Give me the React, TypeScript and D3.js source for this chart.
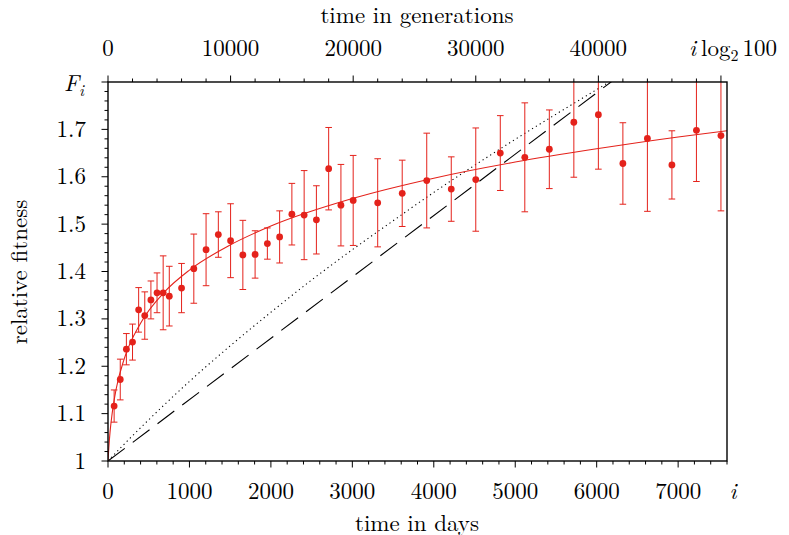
import React from "react";
import * as d3 from "d3";

// ---- data ----
const generations = [
  500, 1000, 1500, 2000, 2500, 3000, 3500, 4000, 4500, 5000,
  6000, 7000, 8000, 9000, 10000, 11000, 12000, 13000, 14000, 15000,
  16000, 17000, 18000, 19000, 20000,
  22000, 24000, 26000, 28000, 30000, 32000, 34000, 36000, 38000, 40000,
  42000, 44000, 46000, 48000, 50000,
];
const fitness = [
  1.116, 1.172, 1.236, 1.251, 1.319, 1.307, 1.340, 1.355, 1.355, 1.348,
  1.365, 1.406, 1.446, 1.478, 1.465, 1.435, 1.436, 1.459, 1.473, 1.521,
  1.519, 1.509, 1.617, 1.540, 1.550,
  1.545, 1.565, 1.592, 1.574, 1.594, 1.650, 1.641, 1.658, 1.715, 1.731,
  1.628, 1.681, 1.625, 1.698, 1.687,
];
const errors = [
  0.034, 0.043, 0.033, 0.038, 0.047, 0.050, 0.040, 0.042, 0.078, 0.063,
  0.052, 0.073, 0.076, 0.048, 0.078, 0.073, 0.050, 0.033, 0.055, 0.065,
  0.094, 0.072, 0.087, 0.086, 0.095,
  0.093, 0.070, 0.100, 0.068, 0.109, 0.079, 0.115, 0.083, 0.116, 0.115,
  0.086, 0.154, 0.072, 0.108, 0.159,
];

// fitted curve (power law)
const fitDays = [0, 10, 25, 50, 100, 200, 400, 700, 1000, 1500, 2000, 3000, 4000, 5000, 6000, 7000, 7600];
const fitF = [1.0, 1.028, 1.061, 1.099, 1.152, 1.216, 1.291, 1.358, 1.403, 1.456, 1.496, 1.554, 1.597, 1.631, 1.659, 1.684, 1.697];

// dotted curve
const dotDays = [0, 100, 250, 500, 1000, 1500, 2000, 2500, 3000, 3500, 4000, 4500, 5000, 5500, 6000, 6300];
const dotF = [1.0, 1.018, 1.0445, 1.087, 1.168, 1.243, 1.314, 1.382, 1.446, 1.507, 1.567, 1.624, 1.679, 1.732, 1.784, 1.815];

// dashed line
const dashDays = [0, 6300];
const dashF = [1.0, 1.816];

const daysTicks = [0, 1000, 2000, 3000, 4000, 5000, 6000, 7000];
const genTicks = [0, 10000, 20000, 30000, 40000];
const fitTicks = [1, 1.1, 1.2, 1.3, 1.4, 1.5, 1.6, 1.7];

const LOG2_100 = Math.log2(100);
const W = 789;
const H = 535;
const RED = "#e4221b";
const FONT = '"Latin Modern Roman"';

export default function App() {
  const x = d3.scaleLinear().domain([0, 7600]).range([108, 727]);
  const xg = d3.scaleLinear().domain([0, 7600 * LOG2_100]).range([108, 727]);
  const y = d3.scaleLinear().domain([1, 1.8]).range([461, 82]);

  const [x0, x1] = x.range();
  const [y0, y1] = y.range();

  const line = d3
    .line<[number, number]>()
    .x((d) => x(d[0]))
    .y((d) => y(d[1]))
    .curve(d3.curveMonotoneX);

  const fitPath = line(fitDays.map((d, i) => [d, fitF[i]]) as [number, number][]) || "";
  const dotPath = line(dotDays.map((d, i) => [d, dotF[i]]) as [number, number][]) || "";
  const dashPath =
    d3
      .line<[number, number]>()
      .x((d) => x(d[0]))
      .y((d) => y(d[1]))(dashDays.map((d, i) => [d, dashF[i]]) as [number, number][]) || "";

  const minorDays = d3.range(0, 7601, 200);
  const minorGen = d3.range(0, 50001, 2000);
  const minorF = d3.range(0, 41).map((i) => 1 + i * 0.02);

  const pts = generations.map((g, i) => ({
    t: g / LOG2_100,
    f: fitness[i],
    e: errors[i],
  }));

  const txt: React.CSSProperties = { fontFamily: FONT };

  return (
    <svg
      width={W}
      height={H}
      style={{ position: "absolute", left: 0, top: 0, background: "#fff" }}
    >
      <defs>
        <clipPath id="plotclip">
          <rect x={x0} y={y1} width={x1 - x0} height={y0 - y1} />
        </clipPath>
      </defs>
      <rect x={0} y={0} width={W} height={H} fill="#fff" />

      {/* model lines */}
      <g clipPath="url(#plotclip)" fill="none">
        <path d={dotPath} stroke="#000" strokeWidth={1.1} strokeDasharray="1.2,3.3" />
        <path d={dashPath} stroke="#000" strokeWidth={1.1} strokeDasharray="21,10" />
        <path d={fitPath} stroke={RED} strokeWidth={1.1} />
        {pts.map((p, i) => {
          const cx = x(p.t);
          const top = y(p.f + p.e);
          const bot = y(p.f - p.e);
          return (
            <g key={i} stroke={RED} strokeWidth={1}>
              <line x1={cx} x2={cx} y1={top} y2={bot} />
              <line x1={cx - 3.3} x2={cx + 3.3} y1={top} y2={top} />
              <line x1={cx - 3.3} x2={cx + 3.3} y1={bot} y2={bot} />
            </g>
          );
        })}
        {pts.map((p, i) => (
          <circle key={"c" + i} cx={x(p.t)} cy={y(p.f)} r={3.4} fill={RED} />
        ))}
      </g>

      {/* frame */}
      <rect x={x0} y={y1} width={x1 - x0} height={y0 - y1} fill="none" stroke="#000" strokeWidth={1.4} />

      {/* ticks */}
      <g stroke="#000" strokeWidth={1}>
        {minorDays.map((d) => {
          const major = d % 1000 === 0;
          return <line key={"bd" + d} x1={x(d)} x2={x(d)} y1={y0} y2={y0 + (major ? 6.5 : 3.5)} />;
        })}
        {minorGen.map((g) => {
          const major = g % 10000 === 0;
          return <line key={"tg" + g} x1={xg(g)} x2={xg(g)} y1={y1} y2={y1 - (major ? 6.5 : 3.5)} />;
        })}
        {minorF.map((f, i) => {
          const major = i % 5 === 0;
          return <line key={"lf" + i} x1={x0} x2={x0 - (major ? 6.5 : 3.5)} y1={y(f)} y2={y(f)} />;
        })}
      </g>

      {/* tick labels */}
      <g fill="#000">
        {daysTicks.map((d) => (
          <text key={"bl" + d} x={x(d)} y={498.5} textAnchor="middle" fontSize={23} style={txt}>
            {d}
          </text>
        ))}
        <text x={x(7600) + 6} y={498.5} textAnchor="middle" fontStyle="italic" fontSize={23} style={txt}>
          i
        </text>
        {genTicks.map((g) => (
          <text key={"tl" + g} x={xg(g)} y={56} textAnchor="middle" fontSize={23} style={txt}>
            {g}
          </text>
        ))}
        <text x={689} y={56} fontSize={23} style={txt}>
          <tspan fontStyle="italic">i</tspan>
          <tspan dx={5}>log</tspan>
          <tspan fontSize={16} dy={5}>2</tspan>
          <tspan dx={4} dy={-5}>100</tspan>
        </text>
        {fitTicks.map((f) => (
          <text key={"yl" + f} x={86} y={y(f) + 7.5} textAnchor="end" fontSize={23} style={txt}>
            {f === 1 ? "1" : f.toFixed(1)}
          </text>
        ))}
        <text x={64} y={y(1.8) + 9} fontSize={23} style={txt}>
          <tspan fontStyle="italic">F</tspan>
          <tspan fontStyle="italic" fontSize={16} dy={5}>i</tspan>
        </text>
      </g>

      {/* axis titles */}
      <g fill="#000">
        <text x={417} y={23} textAnchor="middle" fontSize={23} style={txt}>
          time in generations
        </text>
        <text x={417} y={531} textAnchor="middle" fontSize={23} style={txt}>
          time in days
        </text>
        <text transform={`translate(27,272) rotate(-90)`} textAnchor="middle" fontSize={23} style={txt}>
          relative fitness
        </text>
      </g>
    </svg>
  );
}
